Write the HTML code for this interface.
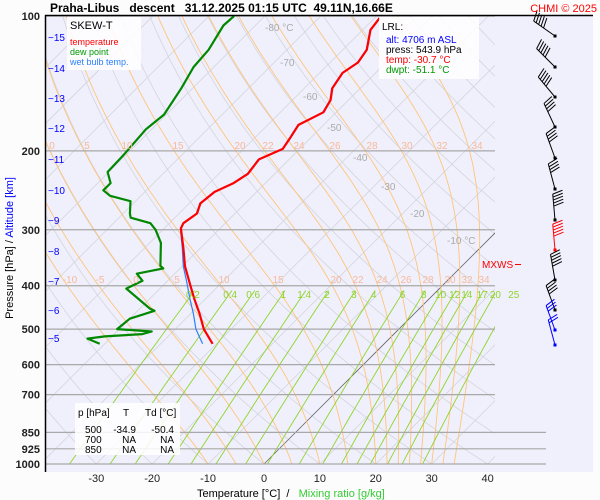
<!DOCTYPE html>
<html><head><meta charset="utf-8"><style>
html,body{margin:0;padding:0;background:#fcfcfc;}
svg{display:block;font-family:"Liberation Sans",sans-serif;}
</style></head><body>
<svg id="chart" width="600" height="500" viewBox="0 0 600 500">
<defs><clipPath id="pc"><rect x="45" y="16" width="450" height="449"/></clipPath>
<clipPath id="pc2"><rect x="45" y="16" width="548" height="456"/></clipPath></defs>
<rect x="45" y="16" width="548" height="456" fill="#f0f0fc"/>
<g id="grid" clip-path="url(#pc)"></g>
<g id="plines"></g>
<g id="series" clip-path="url(#pc2)"></g>
<g id="winds"></g>
<g id="labels"></g>
<line x1="45" y1="15.5" x2="593" y2="15.5" stroke="#000" stroke-width="1.5"/>
<line x1="45.5" y1="15" x2="45.5" y2="472" stroke="#000" stroke-width="1.5"/>
<text x="50" y="12" font-size="12" font-weight="bold" xml:space="preserve">Praha-Libus   descent   31.12.2025 01:15 UTC  49.11N,16.66E</text>
<text x="597" y="12" font-size="11" fill="#f00" text-anchor="end">CHMI © 2025</text>
<g>
<rect x="67" y="17" width="74" height="53" fill="#fff" opacity="0.85"/>
<text x="70" y="29" font-size="11">SKEW-T</text>
<text x="70" y="45" font-size="9" fill="#f00">temperature</text>
<text x="70" y="55" font-size="9" fill="#090">dew point</text>
<text x="70" y="65" font-size="9" fill="#2a7fff">wet bulb temp.</text>
</g>
<g>
<rect x="379" y="17" width="100" height="62" fill="#fff" opacity="0.85"/>
<text x="382" y="30" font-size="10">LRL:</text>
<text x="386" y="43" font-size="10" fill="#00f">alt: 4706 m ASL</text>
<text x="386" y="53" font-size="10">press: 543.9 hPa</text>
<text x="386" y="63" font-size="10" fill="#f00">temp: -30.7 °C</text>
<text x="386" y="73" font-size="10" fill="#090">dwpt: -51.1 °C</text>
</g>
<g font-size="10">
<rect x="75" y="403" width="105" height="52" fill="#fff" opacity="0.85"/>
<text x="78" y="416">p [hPa]</text><text x="123" y="416">T</text><text x="145" y="416">Td [°C]</text>
<text x="85" y="433">500</text><text x="136" y="433" text-anchor="end">-34.9</text><text x="174" y="433" text-anchor="end">-50.4</text>
<text x="85" y="443">700</text><text x="136" y="443" text-anchor="end">NA</text><text x="174" y="443" text-anchor="end">NA</text>
<text x="85" y="453">850</text><text x="136" y="453" text-anchor="end">NA</text><text x="174" y="453" text-anchor="end">NA</text>
</g>
<text x="482" y="268" font-size="10" fill="#f00">MXWS</text>
<line x1="515" y1="264.5" x2="521" y2="264.5" stroke="#f00"/>
<text transform="translate(13,248) rotate(-90)" font-size="11" text-anchor="middle"><tspan>Pressure [hPa]</tspan><tspan>  /  </tspan><tspan fill="#00f">Altitude [km]</tspan></text>
<text x="197" y="497" font-size="11" xml:space="preserve">Temperature [°C]  /   <tspan fill="#3c3">Mixing ratio [g/kg]</tspan></text>
</svg>
<script>
const pLevels=[100,200,300,400,500,600,700,850,925,1000];
const tTicks=[-30,-20,-10,0,10,20,30,40];
const kmLabels=[15,14,13,12,11,10,9,8,7,6,5];
const kmY=[37,68,98,128,159,190,220,251,281,310,338];
const isoLabels=[-80,-70,-60,-50,-40,-30,-20,-10];
const mixRatios=[0.2,0.4,0.6,1,1.4,2,3,4,6,8,10,12,14,17,20,25];
const thetaW=[-10,-5,0,5,10,15,20,22,24,26,28,30,32,34];
const thetaWTop=[0,5,10,15,20,22,24,26,28,30,32,34];
const tempP=[101,107.4,119,127,134,145,154,164,175,188,198,209,225,236,247,262,276,290,298,330,362,396,428,462,500,539];
const tempT=[-59.1,-58.6,-55.7,-55,-55.9,-55,-53.2,-52.3,-54.5,-53.6,-53,-55.4,-54.8,-55.7,-57.5,-58,-56.8,-57.5,-57,-53,-49.5,-45.5,-42,-38.4,-34.9,-30.7];
const wetT=[-59.1,-58.7,-55.8,-55.1,-56,-55.1,-53.3,-52.4,-54.6,-53.7,-53.1,-55.5,-54.9,-55.8,-57.6,-58.1,-56.9,-57.6,-57.1,-53.2,-49.8,-46,-42.8,-39.5,-36.3,-32.5];
const dewP=[100,105,119,130,145,166,179,204,223,236,245,252,259,276,282,290,300,321,361,366,376,390,406,450,455,474,500,506,513,519,525,539];
const dewT=[-85.5,-85.7,-84,-83.6,-82,-80.4,-81,-80.4,-80.2,-77.7,-77.7,-75.5,-70.9,-68.8,-67.9,-63.4,-61.3,-58,-54,-53,-56.8,-54.5,-56,-48.2,-47,-50,-50.4,-43.8,-45,-51.3,-54,-50.9];
const windY=[36,67,97,127,158,189,220,250,280,310,330,345];
const windDir=[305,315,320,335,340,345,355,355,350,340,340,345];
const windBarbs=[5,5,5,4,4,4,5,5,5,4,3,2];

const NS='http://www.w3.org/2000/svg';
function Y(p){return 16+448*Math.log10(p/100);}
function X(T,p){return 264+5.59*T+(464-Y(p));}
function mk(tag,attrs,parent){const e=document.createElementNS(NS,tag);for(const k in attrs)e.setAttribute(k,attrs[k]);parent.appendChild(e);return e;}
const grid=document.getElementById('grid'),pl=document.getElementById('plines'),ser=document.getElementById('series'),lab=document.getElementById('labels'),win=document.getElementById('winds');
function pathOf(pts){return 'M'+pts.map(q=>q[0].toFixed(1)+','+q[1].toFixed(1)).join('L');}
function plist(a,b,n){const r=[];for(let i=0;i<=n;i++)r.push(a*Math.pow(b/a,i/n));return r;}
for(let th=-40;th<=200;th+=10){const pts=plist(1000,100,40).map(p=>{const T=(th+273.15)*Math.pow(p/1000,0.2857)-273.15;return [X(T,p),Y(p)];});
const e=mk('path',{d:pathOf(pts),fill:'none',stroke:'#d4d4dc','stroke-width':0.8},grid);

}
for(let T=-150;T<=40;T+=10){const e=mk('line',{x1:X(T,1000),y1:Y(1000),x2:X(T,100),y2:Y(100),stroke:T===0?'#666':'#d4d4dc','stroke-width':0.8},grid);

}
function es(T){return 6.112*Math.exp(17.67*T/(T+243.5));}
thetaW.forEach(tw=>{let T=tw+273.15,p=1000;const pts=[[X(tw,1000),Y(1000)]];const steps=120;const f=Math.pow(100/1000,1/steps);
for(let i=0;i<steps;i++){const pn=p*f;const e1=es(T-273.15);const rs=0.622*e1/(p-e1);const L=2.5e6;
const dTdlnp=(287*T+L*rs)/(1005+L*L*rs*0.622/(287*T*T));T+=dTdlnp*Math.log(pn/p);p=pn;pts.push([X(T-273.15,p),Y(p)]);}
const e=mk('path',{d:pathOf(pts),fill:'none',stroke:'#ffc47a','stroke-width':0.9},grid);

});
function tdFromW(w,p){const e=w*p/(622+w);const l=Math.log(e/6.112);return 243.5*l/(17.67-l);}
mixRatios.forEach(w=>{const pts=plist(1000,410,20).map(p=>[X(tdFromW(w,p),p),Y(p)]);
const e=mk('path',{d:pathOf(pts),fill:'none',stroke:'#8fd42a','stroke-width':0.9},grid);


const t=mk('text',{x:X(tdFromW(w,415),415),y:298,'font-size':10,fill:'#8fd42a','text-anchor':'middle'},lab);t.textContent=String(w);

});
pLevels.forEach(p=>{const e=mk('line',{x1:45,y1:Y(p),x2:p>=850?546:495,y2:Y(p),stroke:'#a8a8a8','stroke-width':1.2},pl);


const t=mk('text',{x:40,y:Y(p)+4,'font-size':11,'font-weight':'bold','text-anchor':'end',fill:'#222'},lab);t.textContent=p;

});
tTicks.forEach(T=>{const t=mk('text',{x:X(T,1000),y:482,'font-size':11,'text-anchor':'middle',fill:'#222'},lab);t.textContent=T;

});
kmLabels.forEach((k,i)=>{const t=mk('text',{x:48,y:kmY[i]+4,'font-size':10,fill:'#00f'},lab);t.textContent='\u2212'+k;

});
const isoPos=[[265,31],[280,66],[303,100],[327,131],[353,161],[381,190],[410,217],[447,244]];
isoLabels.forEach((v,i)=>{const t=mk('text',{x:isoPos[i][0],y:isoPos[i][1],'font-size':10,fill:'#aaa'},lab);t.textContent=(i===0||i===7)?v+' °C':String(v);

});
const topX=[52,87,127,178,240,268,299,335,372,407,442,477];
thetaWTop.forEach((v,i)=>{const t=mk('text',{x:topX[i],y:149,'font-size':10,fill:'#f8b89a','text-anchor':'middle'},lab);t.textContent=v;

});
const midX=[70,100,136,177,224,278,336,358,382,406,428,450,467,484];
thetaW.forEach((v,i)=>{const t=mk('text',{x:midX[i],y:283,'font-size':10,fill:'#f8b89a','text-anchor':'middle'},lab);t.textContent=v;

});
function line(P,T,col,w,name){const e=mk('path',{d:pathOf(P.map((p,i)=>[X(T[i],p),Y(p)])),fill:'none',stroke:col,'stroke-width':w,'stroke-linejoin':'round'},ser);

}
line(tempP,wetT,'#2a7fff',1.2,'wet-bulb-line');
line(tempP,tempT,'#f00',2.2,'temperature-line');
line(dewP,dewT,'#080',2.2,'dew-point-line');
windY.forEach((y,i)=>{const a=(windDir[i])*Math.PI/180;const L=26;const x0=555;const dx=Math.sin(a)*L,dy=-Math.cos(a)*L;
const col=(y>225&&y<265)?'#f00':(y>=330?'#00f':'#000');
const g=mk('g',{},win);


mk('line',{x1:x0,y1:y,x2:x0+dx,y2:y+dy,stroke:col,'stroke-width':1},g);
mk('rect',{x:x0-1.5,y:y-1.5,width:3,height:3,fill:col},g);
const ux=dx/L,uy=dy/L;const px=-uy,py=ux;
for(let b=0;b<windBarbs[i];b++){const bx=x0+dx-ux*b*3,by=y+dy-uy*b*3;
mk('line',{x1:bx,y1:by,x2:bx+px*10+ux*3,y2:by+py*10+uy*3,stroke:col,'stroke-width':1},g);}});
</script>
</body></html>
